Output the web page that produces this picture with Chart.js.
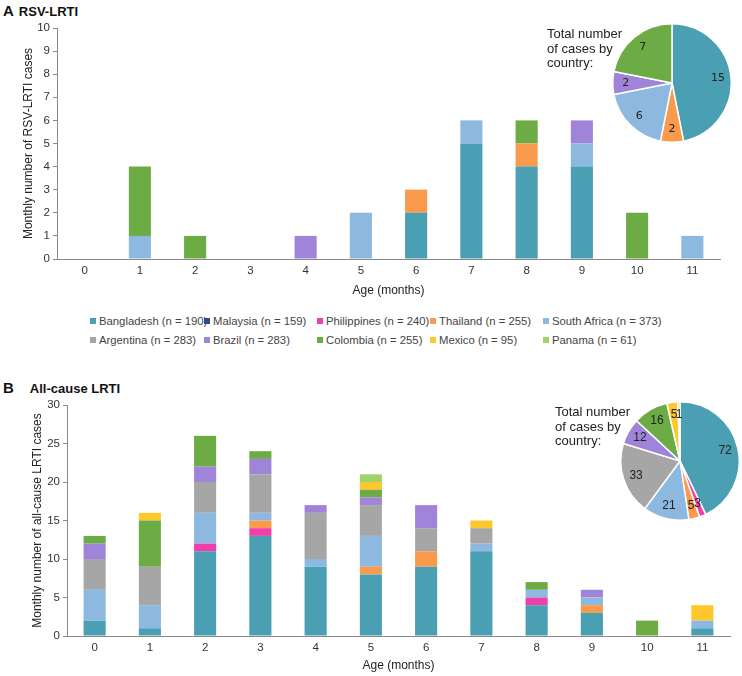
<!DOCTYPE html>
<html>
<head>
<meta charset="utf-8">
<script src="https://cdn.jsdelivr.net/npm/chart.js@4/dist/chart.umd.min.js"></script>
<style>
  body { margin: 0; background: #fff; font-family: "Liberation Sans", Arial, sans-serif; }
  #page { position: relative; width: 742px; height: 676px; overflow: hidden; }
  canvas { position: absolute; }
  .panel { position: absolute; font-weight: bold; color: #111; white-space: nowrap; line-height: 16px; }
  .panel .letter { font-size: 15px; margin-right: 5px; }
  .panel .name { font-size: 13px; }
  .note { position: absolute; font-size: 13px; line-height: 14.5px; color: #222; }
  .lg { position: absolute; font-size: 11.3px; color: #444; white-space: nowrap; line-height: 14px; }
  .lg i { display: inline-block; width: 6px; height: 6px; margin-right: 3px; vertical-align: 1px; }
</style>
</head>
<body>
<div id="page">
  <div class="panel" style="left:3px;top:3px"><span class="letter">A</span><span class="name">RSV-LRTI</span></div>
  <canvas id="barA" width="742" height="298" style="left:0;top:0"></canvas>
  <div class="note" style="left:547px;top:27px">Total number<br>of cases by<br>country:</div>
  <canvas id="pieA" width="122" height="122" style="left:611px;top:22px"></canvas>

  <div id="legend"></div>

  <div class="panel" style="left:3px;top:380px"><span class="letter" style="margin-right:16px">B</span><span class="name">All-cause LRTI</span></div>
  <canvas id="barB" width="742" height="303" style="left:0;top:370px"></canvas>
  <div class="note" style="left:555px;top:405px">Total number<br>of cases by<br>country:</div>
  <canvas id="pieB" width="122" height="122" style="left:619px;top:400px"></canvas>
</div>

<script>
const ages = ["0", "1", "2", "3", "4", "5", "6", "7", "8", "9", "10", "11"];
const countries = ["Bangladesh", "Malaysia", "Philippines", "Thailand", "South Africa",
  "Argentina", "Brazil", "Colombia", "Mexico", "Panama"];
const countryN = [190, 159, 240, 255, 373, 283, 283, 255, 95, 61];

// RSV-LRTI cases by month of age
const rsvBangladesh  = [0, 0, 0, 0, 0, 0, 2, 5, 4, 4, 0, 0];
const rsvMalaysia    = [0, 0, 0, 0, 0, 0, 0, 0, 0, 0, 0, 0];
const rsvPhilippines = [0, 0, 0, 0, 0, 0, 0, 0, 0, 0, 0, 0];
const rsvThailand    = [0, 0, 0, 0, 0, 0, 1, 0, 1, 0, 0, 0];
const rsvSouthAfrica = [0, 1, 0, 0, 0, 2, 0, 1, 0, 1, 0, 1];
const rsvArgentina   = [0, 0, 0, 0, 0, 0, 0, 0, 0, 0, 0, 0];
const rsvBrazil      = [0, 0, 0, 0, 1, 0, 0, 0, 0, 1, 0, 0];
const rsvColombia    = [0, 3, 1, 0, 0, 0, 0, 0, 1, 0, 2, 0];
const rsvMexico      = [0, 0, 0, 0, 0, 0, 0, 0, 0, 0, 0, 0];
const rsvPanama      = [0, 0, 0, 0, 0, 0, 0, 0, 0, 0, 0, 0];
const rsvTotals      = [15, 0, 0, 2, 6, 0, 2, 7, 0, 0];

// All-cause LRTI cases by month of age
const allBangladesh  = [2, 1, 11, 13, 9, 8, 9, 11, 4, 3, 0, 1];
const allMalaysia    = [0, 0, 0, 0, 0, 0, 0, 0, 0, 0, 0, 0];
const allPhilippines = [0, 0, 1, 1, 0, 0, 0, 0, 1, 0, 0, 0];
const allThailand    = [0, 0, 0, 1, 0, 1, 2, 0, 0, 1, 0, 0];
const allSouthAfrica = [4, 3, 4, 1, 1, 4, 0, 1, 1, 1, 0, 1];
const allArgentina   = [4, 5, 4, 5, 6, 4, 3, 2, 0, 0, 0, 0];
const allBrazil      = [2, 0, 2, 2, 1, 1, 3, 0, 0, 1, 0, 0];
const allColombia    = [1, 6, 4, 1, 0, 1, 0, 0, 1, 0, 2, 0];
const allMexico      = [0, 1, 0, 0, 0, 1, 0, 1, 0, 0, 0, 2];
const allPanama      = [0, 0, 0, 0, 0, 1, 0, 0, 0, 0, 0, 0];
const allTotals      = [72, 0, 3, 5, 21, 33, 12, 16, 5, 1];

const countryColors = ["#4a9fb3", "#2f4d7e", "#f03fa9", "#f99a4c", "#8db8e0",
  "#a6a6a6", "#a084d9", "#6dac45", "#fec72c", "#9fd46c"];

Chart.defaults.font.family = '"Liberation Sans", Arial, sans-serif';
Chart.defaults.color = "#333";

const rsvSeries = [rsvBangladesh, rsvMalaysia, rsvPhilippines, rsvThailand, rsvSouthAfrica,
  rsvArgentina, rsvBrazil, rsvColombia, rsvMexico, rsvPanama];
const allSeries = [allBangladesh, allMalaysia, allPhilippines, allThailand, allSouthAfrica,
  allArgentina, allBrazil, allColombia, allMexico, allPanama];

// legend (two rows of five)
const legendX = [90, 204, 317, 430, 543];
const legendY = [314, 333];
const legend = document.getElementById("legend");
countries.forEach((c, i) => {
  const d = document.createElement("div");
  d.className = "lg";
  d.style.left = legendX[i % 5] + "px";
  d.style.top = legendY[Math.floor(i / 5)] + "px";
  d.innerHTML = `<i style="background:${countryColors[i]}"></i>${c} (n = ${countryN[i]})`;
  legend.appendChild(d);
});

function makeBars(id, series, yMax, yStep, yTitle, pad, yWidth, xHeight) {
  new Chart(document.getElementById(id), {
    type: "bar",
    data: {
      labels: ages,
      datasets: countries.map((c, i) => ({
        label: c,
        data: series[i],
        backgroundColor: countryColors[i],
        borderWidth: 0,
        barPercentage: 0.4,
        categoryPercentage: 1,
      })),
    },
    options: {
      responsive: false,
      animation: false,
      layout: { padding: pad },
      plugins: { legend: { display: false }, tooltip: { enabled: false } },
      scales: {
        x: {
          stacked: true,
          grid: { display: false, drawTicks: false },
          border: { color: "#8a8a8a" },
          ticks: { color: "#333", font: { size: 11.5 }, padding: 5, maxRotation: 0 },
          title: { display: true, text: "Age (months)", color: "#222", font: { size: 12 }, padding: 0 },
          afterFit: (s) => { s.height = xHeight; },
        },
        y: {
          stacked: true,
          min: 0,
          max: yMax,
          ticks: { stepSize: yStep, color: "#333", font: { size: 11.5 }, padding: 3 },
          grid: { drawOnChartArea: false, tickLength: 4, color: "#8a8a8a" },
          border: { color: "#8a8a8a" },
          title: { display: true, text: yTitle, color: "#222", font: { size: 12 }, padding: 0 },
          afterFit: (s) => { s.width = yWidth; },
        },
      },
    },
  });
}

// numbers written inside each pie slice
const sliceLabels = {
  id: "sliceLabels",
  afterDatasetsDraw(chart, args, opts) {
    const ctx = chart.ctx;
    const values = chart.data.datasets[0].data;
    ctx.save();
    ctx.font = opts.font;
    ctx.fillStyle = "#222";
    ctx.textAlign = "center";
    ctx.textBaseline = "middle";
    chart.getDatasetMeta(0).data.forEach((arc, i) => {
      const mid = (arc.startAngle + arc.endAngle) / 2;
      const r = arc.outerRadius * 0.78;
      ctx.fillText(values[i], arc.x + Math.cos(mid) * r, arc.y + Math.sin(mid) * r);
    });
    ctx.restore();
  },
};

function makePie(id, totals, font) {
  const keep = totals.map((v, i) => i).filter((i) => totals[i] > 0);
  new Chart(document.getElementById(id), {
    type: "pie",
    data: {
      labels: keep.map((i) => countries[i]),
      datasets: [{
        data: keep.map((i) => totals[i]),
        backgroundColor: keep.map((i) => countryColors[i]),
        borderColor: "#fff",
        borderWidth: 1.5,
      }],
    },
    options: {
      responsive: false,
      animation: false,
      layout: { padding: 1 },
      plugins: { legend: { display: false }, tooltip: { enabled: false }, sliceLabels: { font } },
    },
    plugins: [sliceLabels],
  });
}

makeBars("barA", rsvSeries, 10, 1, "Monthly number of RSV-LRTI cases",
  { left: 21, right: 22, top: 28, bottom: 0 }, 36, 39);
makeBars("barB", allSeries, 30, 5, "Monthly number of all-cause LRTI cases",
  { left: 30, right: 12, top: 35, bottom: 0 }, 37, 37);

makePie("pieA", rsvTotals, '11px "DejaVu Sans", sans-serif');
makePie("pieB", allTotals, '12px "Liberation Sans", Arial, sans-serif');
</script>
</body>
</html>
